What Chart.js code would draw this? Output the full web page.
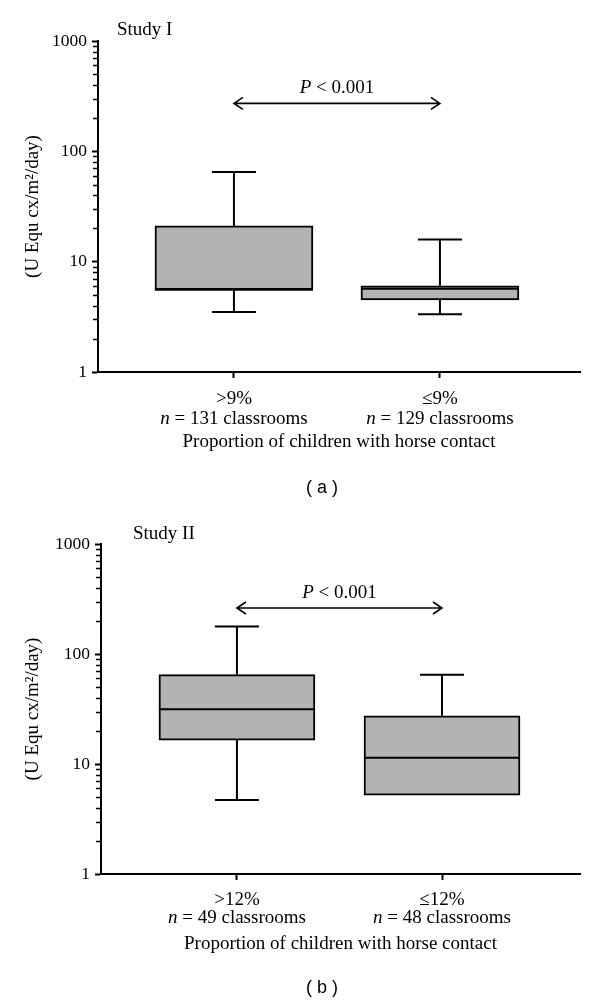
<!DOCTYPE html>
<html><head><meta charset="utf-8">
<script src="https://cdn.jsdelivr.net/npm/chart.js@4/dist/chart.umd.min.js"></script>
<style>
html,body{margin:0;padding:0;background:#fff;}
#wrap{position:relative;width:600px;height:1005px;overflow:hidden;}
.pane{position:absolute;left:0;width:600px;}
</style></head><body>
<div id="wrap">
<div class="pane" style="top:0;height:500px"><canvas id="cA"></canvas></div>
<div class="pane" style="top:500px;height:505px"><canvas id="cB"></canvas></div>
</div>
<script>
// ---------- data ----------
const groupsA = ['>9%', '\u22649%'];
const countsA = [131, 129];
const minA = [3.5, 3.33];
const q1A = [5.56, 4.5];
const medA = [5.56, 5.67];
const q3A = [21.1, 6.05];
const maxA = [65, 15.9];

const groupsB = ['>12%', '\u226412%'];
const countsB = [49, 48];
const minB = [4.7, 5.2];
const q1B = [16.5, 5.2];
const medB = [31.5, 11.4];
const q3B = [65, 27.4];
const maxB = [178, 64.6];

const decadeTicks = [1, 10, 100, 1000];
const minorTicks = [2,3,4,5,6,7,8,9,20,30,40,50,60,70,80,90,200,300,400,500,600,700,800,900];
const studyLabels = ['Study I', 'Study II'];
const panelLabels = ['( a )', '( b )'];
const pLabel = ['P', ' < 0.001'];
const arrowLevels = [272, 262];
const yTitle = '(U Equ cx/m\u00b2/day)';
const xTitle = 'Proportion of children with horse contact';

const SERIF = '"Liberation Serif", "Times New Roman", serif';
const SANS = '"Liberation Sans", Arial, sans-serif';

function makeChart(id, d, L) {
  const boxPlugin = {
    id: 'boxExtras' + id,
    afterDatasetsDraw(chart) {
      const ctx = chart.ctx, xs = chart.scales.x, ys = chart.scales.y;
      const meta = chart.getDatasetMeta(0);
      ctx.save();
      ctx.strokeStyle = '#000';
      ctx.lineWidth = 2;
      d.groups.forEach((g, i) => {
        const bar = meta.data[i];
        const cx = xs.getPixelForValue(i + 1);
        const half = bar.width / 2;
        const yMin = ys.getPixelForValue(d.min[i]);
        const yQ1 = ys.getPixelForValue(d.q1[i]);
        const yMed = ys.getPixelForValue(d.med[i]);
        const yQ3 = ys.getPixelForValue(d.q3[i]);
        const yMax = ys.getPixelForValue(d.max[i]);
        ctx.beginPath();
        // upper whisker
        if (yMax < yQ3 - 1) {
          ctx.moveTo(cx, yQ3); ctx.lineTo(cx, yMax);
          ctx.moveTo(cx - L.cap, yMax); ctx.lineTo(cx + L.cap, yMax);
        }
        // lower whisker
        if (yMin > yQ1 + 1) {
          ctx.moveTo(cx, yQ1); ctx.lineTo(cx, yMin);
          ctx.moveTo(cx - L.cap, yMin); ctx.lineTo(cx + L.cap, yMin);
        }
        // median
        ctx.moveTo(cx - half, yMed); ctx.lineTo(cx + half, yMed);
        ctx.stroke();
      });
      ctx.restore();
    },
    afterDraw(chart) {
      const ctx = chart.ctx, xs = chart.scales.x, ys = chart.scales.y;
      const area = chart.chartArea;
      ctx.save();
      // minor ticks on log axis
      ctx.strokeStyle = '#000';
      ctx.lineWidth = 1.5;
      ctx.beginPath();
      minorTicks.forEach(v => {
        const py = Math.round(ys.getPixelForValue(v)) + 0.5;
        ctx.moveTo(area.left - 5, py); ctx.lineTo(area.left, py);
      });
      ctx.stroke();

      ctx.fillStyle = '#000';
      ctx.textBaseline = 'middle';
      // category labels
      d.groups.forEach((g, i) => {
        const cx = xs.getPixelForValue(i + 1);
        ctx.font = '19px ' + SERIF;
        ctx.textAlign = 'center';
        ctx.fillText(g, cx, area.bottom + L.lab1);
        const it = 'n';
        const rest = ' = ' + d.counts[i] + ' classrooms';
        ctx.font = 'italic 19px ' + SERIF;
        const w1 = ctx.measureText(it).width;
        ctx.font = '19px ' + SERIF;
        const w2 = ctx.measureText(rest).width;
        let sx = cx - (w1 + w2) / 2;
        ctx.textAlign = 'left';
        ctx.font = 'italic 19px ' + SERIF;
        ctx.fillText(it, sx, area.bottom + L.lab2);
        ctx.font = '19px ' + SERIF;
        ctx.fillText(rest, sx + w1, area.bottom + L.lab2);
      });

      // double arrow
      const ay = ys.getPixelForValue(d.arrow);
      const ax1 = xs.getPixelForValue(1), ax2 = xs.getPixelForValue(2);
      ctx.lineWidth = 1.6;
      ctx.beginPath();
      ctx.moveTo(ax1, ay); ctx.lineTo(ax2, ay);
      ctx.moveTo(ax1 + 9, ay - 6); ctx.lineTo(ax1, ay); ctx.lineTo(ax1 + 9, ay + 6);
      ctx.moveTo(ax2 - 9, ay - 6); ctx.lineTo(ax2, ay); ctx.lineTo(ax2 - 9, ay + 6);
      ctx.stroke();

      // P value text
      ctx.font = 'italic 19px ' + SERIF;
      const pw1 = ctx.measureText(pLabel[0]).width;
      ctx.font = '19px ' + SERIF;
      const pw2 = ctx.measureText(pLabel[1]).width;
      const pcx = (ax1 + ax2) / 2;
      let px = pcx - (pw1 + pw2) / 2;
      ctx.textAlign = 'left';
      ctx.font = 'italic 19px ' + SERIF;
      ctx.fillText(pLabel[0], px, ay - 15);
      ctx.font = '19px ' + SERIF;
      ctx.fillText(pLabel[1], px + pw1, ay - 15);

      // study label
      ctx.font = '19px ' + SERIF;
      ctx.fillText(d.study, L.studyX, L.studyY);

      // panel label
      ctx.font = '18px ' + SANS;
      ctx.textAlign = 'center';
      ctx.fillText(d.panel, L.panelX, L.panelY);
      ctx.restore();
    }
  };

  return new Chart(document.getElementById(id), {
    type: 'bar',
    data: {
      datasets: [{
        data: d.groups.map((g, i) => ({ x: i + 1, y: [d.q1[i], d.q3[i]] })),
        backgroundColor: '#b3b3b3',
        borderColor: '#000',
        borderWidth: 2,
        borderSkipped: false,
        barThickness: L.barW
      }]
    },
    options: {
      responsive: true,
      maintainAspectRatio: false,
      animation: false,
      events: [],
      layout: { padding: { top: L.top, right: 20, left: 0, bottom: 0 } },
      plugins: { legend: { display: false }, tooltip: { enabled: false }, title: { display: false } },
      scales: {
        x: {
          type: 'linear',
          min: L.xmin, max: L.xmax,
          offset: false,
          afterFit: s => { s.height = L.xh; },
          afterBuildTicks: s => { s.ticks = [{ value: 1 }, { value: 2 }]; },
          ticks: { display: false },
          grid: { display: true, offset: false, drawOnChartArea: false, drawTicks: true, tickLength: 6, tickWidth: 2, tickColor: '#000' },
          border: { display: true, color: '#000', width: 2 },
          title: { display: true, text: xTitle, color: '#000', font: { family: SERIF, size: 19 }, padding: { top: 0, bottom: L.xTitlePad } }
        },
        y: {
          type: 'logarithmic',
          min: 1, max: 1000,
          afterFit: s => { s.width = L.yw; },
          afterBuildTicks: s => { s.ticks = decadeTicks.map(v => ({ value: v })); },
          ticks: { callback: v => String(v), color: '#000', font: { family: SERIF, size: 17.5 }, padding: 5, autoSkip: false },
          grid: { display: true, drawOnChartArea: false, drawTicks: true, tickLength: 6, tickWidth: 2, tickColor: '#000' },
          border: { display: true, color: '#000', width: 2 },
          title: { display: true, text: yTitle, color: '#000', font: { family: SERIF, size: 19 }, padding: { top: 21.6, bottom: 0 } }
        }
      }
    },
    plugins: [boxPlugin]
  });
}

makeChart('cA', {
  groups: groupsA, counts: countsA, min: minA, q1: q1A, med: medA, q3: q3A, max: maxA,
  arrow: arrowLevels[0], study: studyLabels[0], panel: panelLabels[0]
}, { top: 41, yw: 98, xh: 128, xmin: 0.34, xmax: 2.68, barW: 158, cap: 22, lab1: 27, lab2: 47,
     xTitlePad: 46.6, studyX: 117, studyY: 30, panelX: 322, panelY: 488 });

makeChart('cB', {
  groups: groupsB, counts: countsB, min: minB, q1: q1B, med: medB, q3: q3B, max: maxB,
  arrow: arrowLevels[1], study: studyLabels[1], panel: panelLabels[1]
}, { top: 44, yw: 101, xh: 131, xmin: 0.337, xmax: 2.673, barW: 156, cap: 22, lab1: 26, lab2: 44,
     xTitlePad: 49.6, studyX: 133, studyY: 34, panelX: 322, panelY: 488 });
</script>
</body></html>
